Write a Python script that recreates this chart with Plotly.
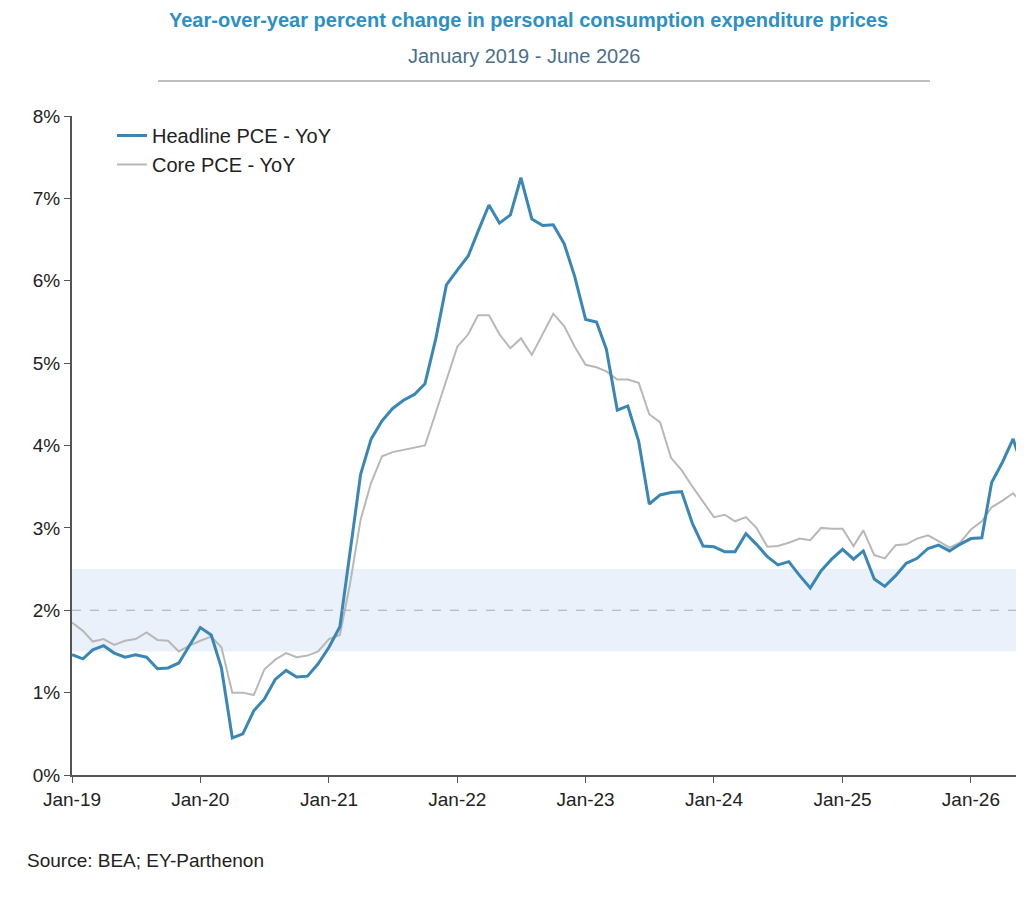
import plotly.graph_objects as go
import pandas as pd

dates = pd.date_range("2019-01-01", periods=90, freq="MS")
headline = [1.46,1.41,1.52,1.57,1.48,1.43,1.46,1.43,1.29,1.30,1.36,1.57,
            1.79,1.70,1.30,0.45,0.50,0.78,0.92,1.16,1.27,1.19,1.20,1.35,
            1.55,1.80,2.65,3.65,4.08,4.30,4.45,4.55,4.62,4.75,5.30,5.95,
            6.13,6.30,6.60,6.92,6.70,6.80,7.25,6.75,6.67,6.68,6.45,6.05,
            5.53,5.50,5.17,4.43,4.48,4.05,3.29,3.40,3.43,3.44,3.05,2.78,
            2.77,2.71,2.71,2.93,2.80,2.65,2.55,2.59,2.42,2.27,2.48,2.62,
            2.74,2.62,2.72,2.38,2.29,2.42,2.57,2.63,2.75,2.79,2.72,2.80,
            2.87,2.88,3.55,3.80,4.08,3.68]
core = [1.85,1.75,1.62,1.65,1.58,1.63,1.65,1.73,1.64,1.63,1.50,1.57,
        1.63,1.68,1.55,1.00,1.00,0.97,1.28,1.40,1.48,1.43,1.45,1.50,
        1.65,1.70,2.30,3.10,3.55,3.87,3.92,3.95,3.98,4.00,4.40,4.80,
        5.20,5.35,5.58,5.58,5.35,5.18,5.30,5.10,5.35,5.60,5.45,5.20,
        4.98,4.95,4.90,4.80,4.80,4.76,4.38,4.28,3.85,3.70,3.50,3.32,
        3.13,3.16,3.08,3.13,3.00,2.77,2.78,2.82,2.87,2.85,3.00,2.99,
        2.99,2.78,2.97,2.67,2.63,2.79,2.80,2.87,2.91,2.84,2.76,2.82,
        2.98,3.08,3.25,3.33,3.42,3.28]
tick_vals = ["2019-01-01","2020-01-01","2021-01-01","2022-01-01","2023-01-01","2024-01-01","2025-01-01","2026-01-01"]
tick_text = ["Jan-19","Jan-20","Jan-21","Jan-22","Jan-23","Jan-24","Jan-25","Jan-26"]

OFF = 8  # page body margin
L, R, T, B = 72 - OFF, OFF, 116 - OFF, 899 - (775 - OFF)
pw = 1024 - L - R
ph = 899 - T - B
def xp(px):
    return (px - OFF - L) / pw
def yp(px):
    return (899 - B - (px - OFF)) / ph

fig = go.Figure()
fig.add_trace(go.Scatter(x=dates, y=core, mode="lines", name="Core PCE - YoY",
                         line=dict(color="#b8b8b8", width=2)))
fig.add_trace(go.Scatter(x=dates, y=headline, mode="lines", name="Headline PCE - YoY",
                         line=dict(color="#3a87b5", width=3)))
fig.add_hrect(y0=1.5, y1=2.5, fillcolor="#e8f0fa", opacity=0.9, line_width=0, layer="below")
fig.add_hline(y=2, line=dict(color="#aaaaaa", width=1.2, dash="dash"))
fig.update_layout(
    width=1024, height=899, plot_bgcolor="white", paper_bgcolor="white",
    margin=dict(l=L, r=R, t=T, b=B),
    font=dict(family="Liberation Sans, Arial", size=19, color="#222"),
    showlegend=True,
    legend=dict(x=xp(112), y=yp(116), xanchor="left", yanchor="top", traceorder="reversed",
                font=dict(size=20), bgcolor="rgba(0,0,0,0)", itemwidth=30, tracegroupgap=0),
    xaxis=dict(range=["2019-01-01","2026-06-01"], tickvals=tick_vals, ticktext=tick_text,
               showgrid=False, showline=True, linecolor="#555", linewidth=2,
               ticks="outside", ticklen=6, tickcolor="#555", tickfont=dict(size=19)),
    yaxis=dict(range=[0, 8], dtick=1, ticksuffix="%", showgrid=False, showline=True,
               linecolor="#555", linewidth=2, ticks="outside", ticklen=6, tickcolor="#555",
               tickfont=dict(size=19)),
    annotations=[
        dict(text="<b>Year-over-year percent change in personal consumption expenditure prices</b>",
             x=xp(528), y=yp(20), xref="paper", yref="paper", showarrow=False,
             xanchor="center", yanchor="middle", font=dict(size=20, color="#2e8fc4")),
        dict(text="January 2019 - June 2026", xref="paper", yref="paper", x=xp(524), y=yp(56),
             xanchor="center", yanchor="middle", showarrow=False, font=dict(size=20, color="#4a6f8a")),
        dict(text="Source: BEA; EY-Parthenon", xref="paper", yref="paper", x=xp(25), y=yp(860),
             xanchor="left", yanchor="middle", showarrow=False, font=dict(size=19, color="#222")),
    ],
)
fig.add_shape(type="line", xref="paper", yref="paper", x0=xp(158), x1=xp(930),
              y0=yp(81), y1=yp(81), line=dict(color="#aaaaaa", width=1.5))
fig.write_html("out.html")
